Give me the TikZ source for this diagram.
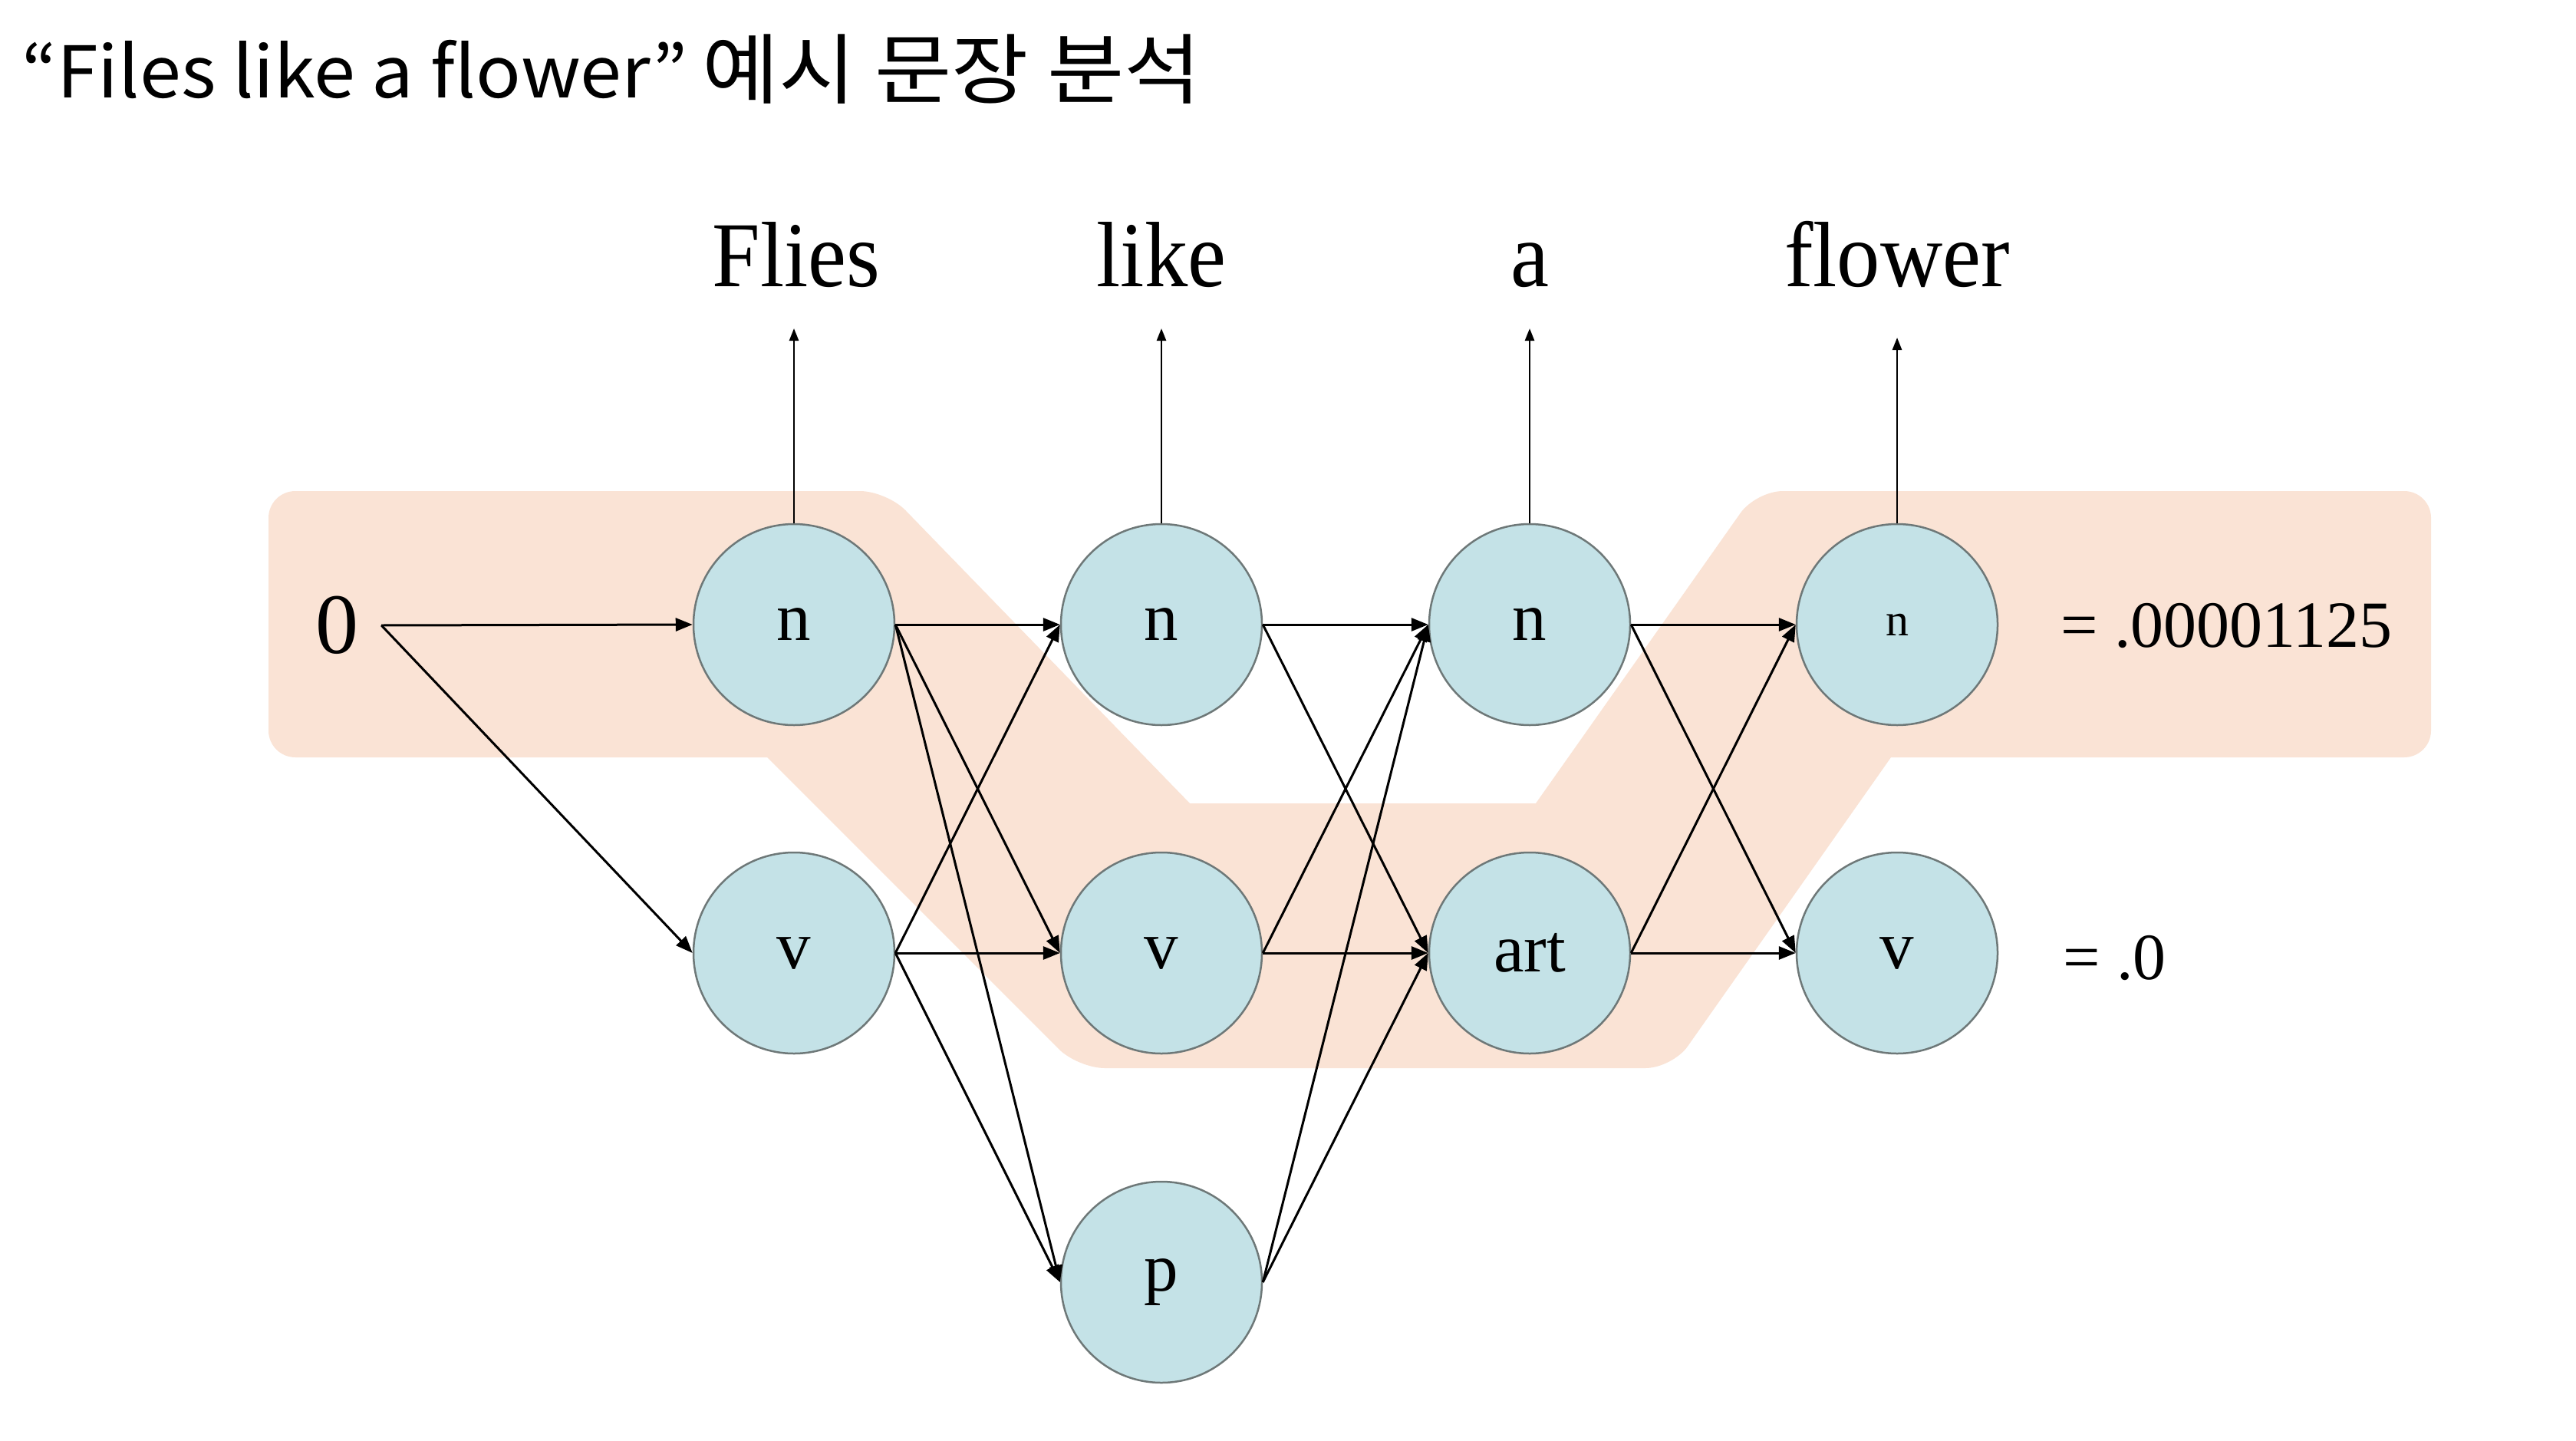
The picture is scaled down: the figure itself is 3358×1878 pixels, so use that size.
\documentclass[tikz,border=0pt]{standalone}
\usepackage{fontspec}
\setmainfont{Liberation Serif}
\newfontfamily\krfont{Noto Sans CJK KR}
\usepackage{graphicx}
\usetikzlibrary{arrows.meta}
\definecolor{bandcol}{RGB}{250,227,213}
\definecolor{nodefill}{RGB}{196,226,231}
\definecolor{nodeline}{RGB}{110,120,120}
\tikzset{
  state/.style={circle, minimum size=262pt, inner sep=0pt, fill=nodefill, draw=nodeline, line width=2.5pt, font=\fontsize{89}{100}\selectfont},
  edge/.style={line width=3pt, -{Triangle[length=22pt,width=17pt]}},
  upedge/.style={line width=2.5pt, -{Triangle[length=16pt,width=12pt]}},
  word/.style={anchor=base, inner sep=0pt, font=\fontsize{121}{140}\selectfont},
  prob/.style={anchor=west, inner sep=0pt, font=\fontsize{86}{100}\selectfont},
}
\newcommand{\wscale}[1]{\scalebox{0.93}[1]{#1}}
\begin{document}
\begin{tikzpicture}[x=1pt,y=-1pt]
\useasboundingbox (0,0) rectangle (3358,1878);
\fill[white] (0,0) rectangle (3358,1878);
\node[anchor=base west, inner sep=0pt, font=\krfont\fontsize{93}{110}\selectfont] (title) at (28,128) {\scalebox{1.045}[1]{“Files like a flower”}\hspace{19pt}{\fontsize{100}{110}\selectfont\scalebox{1.09}[1]{예시 문장 분석}}};

\fill[bandcol] [rounded corners=35pt] (350,640) -- (1156,640) [sharp corners] -- (1551,1047) -- (2002,1047) [rounded corners=35pt] -- (2289,640) -- (3169,640) -- (3169,987) [sharp corners] -- (2465,987) [rounded corners=35pt] -- (2180,1392) -- (1405,1392) [sharp corners] -- (1000,987) [rounded corners=35pt] -- (350,987) -- cycle;

\node[inner sep=0pt, inner xsep=30pt, font=\fontsize{112}{120}\selectfont] (z) at (439,815) {0};

\node[state] (n1) at (1035,814) {n};
\node[state] (v1) at (1035,1242) {v};
\node[state] (n2) at (1514,814) {n};
\node[state] (v2) at (1514,1242) {v};
\node[state] (p2) at (1514,1671) {p};
\node[state] (n3) at (1994,814) {n};
\node[state] (a3) at (1994,1242) {art};
\node[state, font=\fontsize{60}{70}\selectfont] (n4) at (2473,814) {n};
\node[state] (v4) at (2473,1242) {v};

\draw[edge] (z.east) -- (n1.west);
\draw[edge] (z.east) -- (v1.west);
\foreach \a/\b in {n1/n2, n1/v2, n1/p2, v1/n2, v1/v2, v1/p2, n2/n3, n2/a3, v2/n3, v2/a3, p2/n3, p2/a3, n3/n4, n3/v4, a3/n4, a3/v4}
  \draw[edge] (\a.east) -- (\b.west);

\coordinate (t1) at (1035,428);
\coordinate (t2) at (1514,428);
\coordinate (t3) at (1994,428);
\coordinate (t4) at (2473,440);
\draw[upedge] (n1.north) -- (t1);
\draw[upedge] (n2.north) -- (t2);
\draw[upedge] (n3.north) -- (t3);
\draw[upedge] (n4.north) -- (t4);

\node[word] (w1) at (1038,373) {\wscale{Flies}};
\node[word] (w2) at (1514,373) {\wscale{like}};
\node[word] (w3) at (1994,373) {\wscale{a}};
\node[word] (w4) at (2473,373) {\wscale{flower}};

\node[prob] (pr1) at (2686,816) {= .00001125};
\node[prob] (pr2) at (2689,1248) {= .0};
\end{tikzpicture}
\end{document}
